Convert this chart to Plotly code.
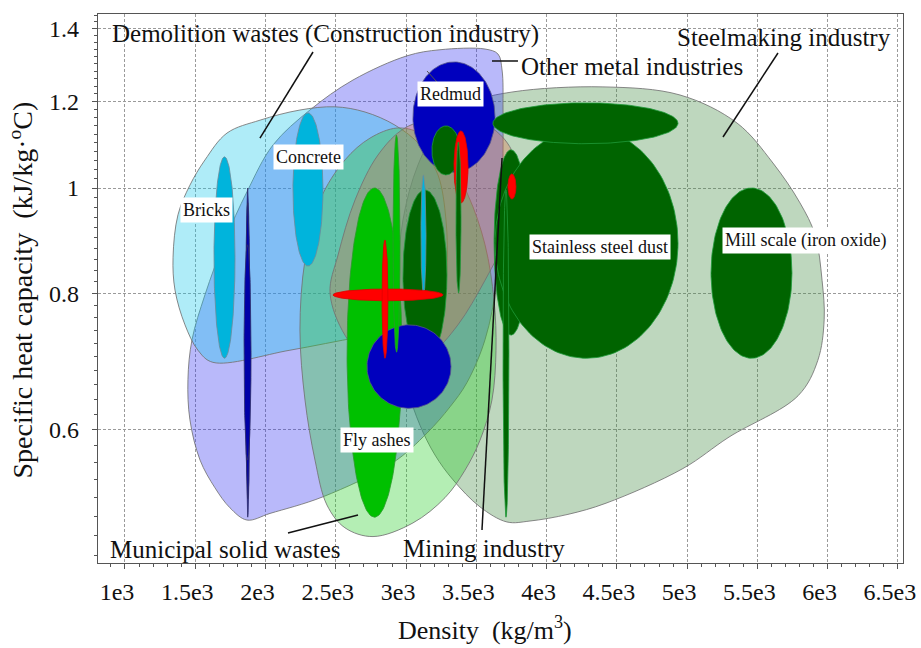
import numpy as np
import plotly.graph_objects as go

# ---------------- axis ticks ----------------
density_ticks = [1000, 1500, 2000, 2500, 3000, 3500, 4000, 4500, 5000, 5500, 6000, 6500]
density_tick_text = ["1e3", "1.5e3", "2e3", "2.5e3", "3e3", "3.5e3", "4e3",
                     "4.5e3", "5e3", "5.5e3", "6e3", "6.5e3"]
cp_ticks = [0.6, 0.8, 1.0, 1.2, 1.4]
cp_tick_text = ["0.6", "0.8", "1", "1.2", "1.4"]
cp_minor_ticks = [round(0.46 + 0.02 * i, 2) for i in range(50)]

# ---------------- industry envelopes (density kg/m3, specific heat kJ/kg.C) ----------------
steel_density = [3718, 3526, 3334, 3206, 3099, 3014, 2957, 2943, 2978, 3085, 3241, 3455, 3761, 4401,
                 4949, 5355, 5611, 5803, 5910, 5960, 5975, 5930, 5790, 5298, 4970, 4423, 4152, 3882]
steel_cp = [0.494, 0.510, 0.540, 0.569, 0.606, 0.653, 0.726, 0.823, 0.935, 1.050, 1.142, 1.197, 1.225, 1.238,
            1.217, 1.147, 1.054, 0.969, 0.906, 0.823, 0.757, 0.695, 0.645, 0.591, 0.553, 0.514, 0.502, 0.495]

metal_density = [1868, 1747, 1640, 1534, 1462, 1448, 1477, 1569, 1712, 1868, 2053, 2316, 2622, 3007,
                 3241, 3562, 3654, 3683, 3690, 3683, 3647, 3562, 3433, 3313, 3149, 2907, 2409, 2032]
metal_cp = [0.496, 0.509, 0.531, 0.563, 0.613, 0.667, 0.726, 0.798, 0.896, 0.992, 1.095, 1.179, 1.256, 1.322,
            1.339, 1.341, 1.327, 1.283, 1.179, 0.975, 0.823, 0.726, 0.663, 0.630, 0.596, 0.560, 0.521, 0.503]

demolition_density = [1626, 1519, 1427, 1356, 1342, 1377, 1462, 1569, 1726, 1961, 2245, 2494, 2708, 2921,
                      3099, 3227, 3284, 3291, 3256, 3135, 2672, 2174]
demolition_cp = [0.692, 0.710, 0.749, 0.806, 0.864, 0.945, 1.006, 1.061, 1.123, 1.154, 1.179, 1.187, 1.174,
                 1.142, 1.095, 1.028, 0.935, 0.841, 0.773, 0.746, 0.730, 0.710]

municipal_density = [2765, 2565, 2437, 2352, 2281, 2245, 2281, 2388, 2565, 2743, 2935, 3099, 3277, 3441,
                     3562, 3626, 3640, 3611, 3526, 3419, 3277, 3049]
municipal_cp = [0.479, 0.488, 0.512, 0.563, 0.639, 0.741, 0.859, 0.975, 1.061, 1.111, 1.135, 1.123, 1.072,
                0.985, 0.887, 0.789, 0.710, 0.639, 0.587, 0.551, 0.520, 0.493]

mining_density = [2459, 2516, 2637, 2800, 2992, 3241, 3526, 3704, 3803, 3811, 3725, 3562, 3369, 3170,
                  2957, 2743, 2565]
mining_cp = [0.801, 0.868, 0.975, 1.072, 1.135, 1.159, 1.150, 1.107, 1.039, 0.975, 0.906, 0.823, 0.749,
             0.703, 0.684, 0.692, 0.733]

# ---------------- material bubbles: property ranges ----------------
bubble_names = ["Bricks", "Concrete", "Metal residue 1", "Metal residue 2", "Metal residue 3", "Redmud",
                "Steel residue 1", "Mining residue 1", "Steel residue 2", "Fly ashes", "Steel residue 3",
                "Demolition residue", "Metal residue 4", "MSW residue", "Mining residue 2", "Mining residue 3",
                "Steel residue 4", "Stainless steel dust", "Steel residue 5", "Mining residue 4",
                "Steel residue 6", "Mill scale (iron oxide)"]
bubble_kind = ["cyan", "cyan", "navy", "navy", "navy", "blue",
               "dkgreen", "red", "dkgreen", "green", "dkgreen",
               "cyan", "blue", "green", "red", "red",
               "dkgreen", "dkgreen", "dkgreen", "red",
               "dkgreen", "dkgreen"]
density_min = [1633, 2195, 1861, 1858, 1847, 3049, 3184, 3341, 3355, 2580, 2978,
               3106, 2722, 2907, 2480, 2829, 3626, 3633, 3618, 3725, 3690, 5170]
density_max = [1783, 2409, 1886, 1889, 1897, 3633, 3384, 3441, 3391, 2971, 3291,
               3142, 3320, 2957, 3263, 2871, 3868, 4935, 4935, 3782, 3732, 5746]
cp_min = [0.698, 0.848, 0.499, 0.519, 0.563, 1.034, 1.028, 0.969, 0.801, 0.499, 0.695,
          0.798, 0.628, 0.707, 0.788, 0.698, 0.733, 0.698, 1.098, 0.977, 0.499, 0.698]
cp_max = [1.068, 1.172, 1.000, 0.969, 0.887, 1.305, 1.140, 1.128, 1.102, 1.000, 0.996,
          1.028, 0.749, 1.118, 0.808, 0.896, 1.084, 1.135, 1.197, 1.030, 0.996, 1.000]

# ---------------- styles ----------------
SERIF = "Liberation Serif, Times New Roman, serif"
bubble_fill = {"cyan": "#00B4DC", "navy": "#0000A8", "blue": "#0000BE",
               "dkgreen": "#006400", "green": "#00C000", "red": "#FF0000"}
bubble_edge = {"cyan": "#6f8a99", "navy": "#30306a", "blue": "#55558a",
               "dkgreen": "#1f9a3a", "green": "#2a9a2a", "red": "#e00000"}

# saturated, fairly transparent fills so that overlapping envelopes darken
envelopes = [
    (steel_density, steel_cp, "rgba(70,140,70,0.35)"),
    (metal_density, metal_cp, "rgba(55,55,240,0.35)"),
    (demolition_density, demolition_cp, "rgba(26,200,235,0.35)"),
    (municipal_density, municipal_cp, "rgba(40,205,40,0.35)"),
    (mining_density, mining_cp, "rgba(230,100,60,0.3)"),
]

fig = go.Figure()

for dens, cps, fill in envelopes:
    fig.add_trace(go.Scatter(
        x=dens + dens[:1], y=cps + cps[:1], mode="lines", fill="toself",
        fillcolor=fill, line=dict(color="rgba(115,115,115,0.85)", width=1, shape="spline", smoothing=1.0),
        hoverinfo="skip", showlegend=False))

t = np.linspace(0, 2 * np.pi, 161)
for name, kind, d0, d1, c0, c1 in zip(bubble_names, bubble_kind, density_min, density_max, cp_min, cp_max):
    cx, rx = (d0 + d1) / 2, (d1 - d0) / 2
    ly, ry = (np.log10(c0) + np.log10(c1)) / 2, (np.log10(c1) - np.log10(c0)) / 2
    fig.add_trace(go.Scatter(
        x=cx + rx * np.cos(t), y=10 ** (ly + ry * np.sin(t)), mode="lines", fill="toself",
        fillcolor=bubble_fill[kind], line=dict(color=bubble_edge[kind], width=0.8),
        name=name, hoverinfo="name", showlegend=False))

# labels on bubbles (white boxes)
box_labels = [("Redmud", 0.4385, 0.8543), ("Concrete", 0.2621, 0.7395), ("Bricks", 0.1354, 0.6430),
              ("Fly ashes", 0.3466, 0.2240), ("Stainless steel dust", 0.6236, 0.5756),
              ("Mill scale (iron oxide)", 0.8783, 0.5883)]
for txt, xp, yp in box_labels:
    fig.add_annotation(x=xp, y=yp, xref="paper", yref="paper", text=txt, showarrow=False,
                       xanchor="center", yanchor="middle",
                       bgcolor="white", borderpad=2, font=dict(family=SERIF, size=18, color="#111"))

# industry captions
captions = [("Demolition wastes (Construction industry)", 0.0149, 0.9636, "left"),
            ("Other metal industries", 0.5230, 0.9035, "left"),
            ("Steelmaking industry", 0.9876, 0.9581, "right"),
            ("Municipal solid wastes", 0.0124, 0.0255, "left"),
            ("Mining industry", 0.3764, 0.0273, "left")]
for txt, xp, yp, anchor in captions:
    fig.add_annotation(x=xp, y=yp, xref="paper", yref="paper", text=txt, showarrow=False,
                       xanchor=anchor, yanchor="middle", font=dict(family=SERIF, size=25, color="#111"))

# axis titles
fig.add_annotation(x=0.4807, y=-0.1184, xref="paper", yref="paper", text="Density  (kg/m<sup>3</sup>)",
                   showarrow=False, xanchor="center", yanchor="middle",
                   font=dict(family=SERIF, size=26, color="#111"))
fig.add_annotation(x=-0.0950, y=0.4973, xref="paper", yref="paper",
                   text="Specific heat capacity  (kJ/kg·<sup>o</sup>C)", textangle=-90,
                   showarrow=False, xanchor="center", yanchor="middle",
                   font=dict(family=SERIF, size=28, color="#111"))

# leader lines
leaders = [(0.2671, 0.9308, 0.2012, 0.7741), (0.4894, 0.9144, 0.5217, 0.9144),
           (0.8447, 0.9290, 0.7764, 0.7760), (0.2360, 0.0546, 0.3230, 0.0874),
           (0.4770, 0.0601, 0.5019, 0.7377)]
for x0, y0, x1, y1 in leaders:
    fig.add_shape(type="line", xref="paper", yref="paper", x0=x0, y0=y0, x1=x1, y1=y1,
                  line=dict(color="#111", width=1.5))
fig.add_shape(type="line", xref="paper", yref="paper", x0=0.4087, y0=0.8962, x1=0.4211, y1=0.8761,
              line=dict(color="#555", width=1))

axis_common = dict(
    showgrid=True, gridcolor="#9a9a9a", gridwidth=1, griddash="3px,2px",
    showline=True, linecolor="#555", linewidth=1.2, mirror=True,
    ticks="outside", ticklen=5, tickcolor="#555", tickwidth=1,
    zeroline=False, tickfont=dict(family=SERIF, size=24, color="#111"),
    ticklabeloverflow="allow", automargin=False,
)

fig.update_layout(
    width=921, height=648,
    margin=dict(l=98, r=18, t=14, b=85, autoexpand=False),
    paper_bgcolor="white", plot_bgcolor="white",
    xaxis=dict(range=[808, 6536], tickmode="array", tickvals=density_ticks, ticktext=density_tick_text,
               minor=dict(dtick=100, ticks="outside", ticklen=3, tickcolor="#555", showgrid=False),
               ticklabelstandoff=2, ticklabelshift=-8, **axis_common),
    yaxis=dict(type="log", range=[np.log10(0.453), np.log10(1.444)], tickmode="array",
               tickvals=cp_ticks, ticktext=cp_tick_text,
               minor=dict(tickmode="array", tickvals=cp_minor_ticks, ticks="outside", ticklen=3,
                          tickcolor="#555", showgrid=False),
               ticklabelstandoff=8, **axis_common),
)

fig.write_html("out.html", config={"displayModeBar": False})
